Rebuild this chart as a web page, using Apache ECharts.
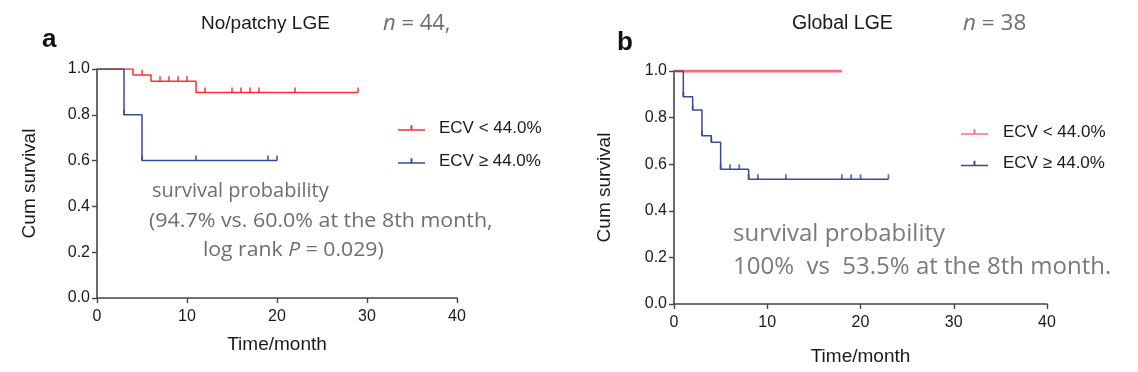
<!DOCTYPE html>
<html><head><meta charset="utf-8">
<script src="https://cdn.jsdelivr.net/npm/echarts@6/dist/echarts.min.js"></script>
<style>html,body{margin:0;padding:0;background:#fff}#c{width:1138px;height:372px}</style>
</head><body><div id="c"></div>
<script>
// ---- Panel a: No/patchy LGE ----
const aLowTimes = [0, 4, 6, 11, 29];
const aLowSurv = [1.0, 0.974, 0.947, 0.897, 0.897];
const aLowCensorT = [5, 7, 8, 9, 10, 12, 15, 16, 17, 18, 22, 29];
const aLowCensorS = [0.974, 0.947, 0.947, 0.947, 0.947, 0.897, 0.897, 0.897, 0.897, 0.897, 0.897, 0.897];
const aHighTimes = [0, 3, 5, 20];
const aHighSurv = [1.0, 0.8, 0.6, 0.6];
const aHighCensorT = [3, 5, 11, 19, 20];
const aHighCensorS = [0.8, 0.6, 0.6, 0.6, 0.6];
// ---- Panel b: Global LGE ----
const bLowTimes = [0, 18];
const bLowSurv = [1.0, 1.0];
const bHighTimes = [0, 1, 2, 3, 4, 5, 8, 23];
const bHighSurv = [1.0, 0.889, 0.833, 0.722, 0.694, 0.578, 0.535, 0.535];
const bHighCensorT = [1, 2, 3, 4, 5, 6, 7, 8, 9, 12, 18, 19, 20, 23];
const bHighCensorS = [0.889, 0.833, 0.722, 0.694, 0.578, 0.578, 0.578, 0.535, 0.535, 0.535, 0.535, 0.535, 0.535, 0.535];
// ---- labels ----
const seriesNames = ['ECV < 44.0%', 'ECV \u2265 44.0%'];
const xTicks = [0, 10, 20, 30, 40];
const yTicks = [0.0, 0.2, 0.4, 0.6, 0.8, 1.0];

const RED = '#ff2d2d', RED_B = '#ff6b7d', BLUE = '#3a4898', AX = '#444';
const FONT = '"Liberation Sans", Arial, sans-serif';
const SOFT = '"Open Sans", "Noto Sans", sans-serif';

const zip = (t, s) => t.map((v, i) => [v, s[i]]);

function mkX(gi, gap) {
  return {
    gridIndex: gi, type: 'value', min: xTicks[0], max: xTicks[xTicks.length - 1], interval: 10,
    name: 'Time/month', nameLocation: 'middle', nameGap: gap,
    nameTextStyle: { fontSize: 19, color: '#1a1a1a', fontFamily: FONT },
    axisLine: { show: true, onZero: false, lineStyle: { color: AX, width: 1.6 } },
    axisTick: { show: true, length: 5, lineStyle: { color: AX, width: 1.4 } },
    axisLabel: { fontSize: 16, color: '#1a1a1a', fontFamily: FONT, margin: 11 },
    splitLine: { show: false }
  };
}
function mkY(gi, gap) {
  return {
    gridIndex: gi, type: 'value', min: yTicks[0], max: yTicks[yTicks.length - 1], interval: 0.2,
    name: 'Cum survival', nameLocation: 'middle', nameGap: gap, nameRotate: 90,
    nameTextStyle: { fontSize: 19, color: '#1a1a1a', fontFamily: FONT },
    axisLine: { show: true, onZero: false, lineStyle: { color: AX, width: 1.6 } },
    axisTick: { show: true, length: 5, lineStyle: { color: AX, width: 1.4 } },
    axisLabel: { fontSize: 16, color: '#1a1a1a', fontFamily: FONT, margin: 7, formatter: v => v.toFixed(1) },
    splitLine: { show: false }
  };
}
function km(name, gi, t, s, color, w) {
  return { name, type: 'line', step: 'end', xAxisIndex: gi, yAxisIndex: gi, data: zip(t, s),
    symbol: 'none', lineStyle: { color, width: w }, itemStyle: { color }, silent: true, z: 3 };
}
function cens(gi, t, s, color) {
  return { name: 'censor', type: 'scatter', xAxisIndex: gi, yAxisIndex: gi, data: zip(t, s),
    symbol: 'rect', symbolSize: [1.8, 5], symbolOffset: [0, -2.5], itemStyle: { color }, silent: true, z: 4 };
}
const icon = 'path://M0,6L28,6L28,7.6L0,7.6Z M13,2L15,2L15,7L13,7Z';
function legend(left, top, redColor, gap, pad) {
  return {
    left, top, orient: 'vertical', itemGap: gap, itemWidth: 27, itemHeight: 7, icon, padding: 0,
    selectedMode: false,
    textStyle: { fontSize: 17, lineHeight: 18, color: '#1a1a1a', fontFamily: FONT, padding: [0, 0, 0, pad] },
    data: [
      { name: seriesNames[0], itemStyle: { color: redColor } },
      { name: seriesNames[1], itemStyle: { color: BLUE } }
    ]
  };
}
function txt(x, y, text, size, color, family, extra, styleExtra) {
  return Object.assign({ type: 'text', x, y, style: Object.assign({ text, fontSize: size, fill: color, fontFamily: family,
    textVerticalAlign: 'middle' }, styleExtra || {}) }, extra || {});
}
const italic = (size, color) => ({ i: { fontStyle: 'italic', fontSize: size, fill: color, fontFamily: SOFT } });

const chart = echarts.init(document.getElementById('c'), null, { renderer: 'canvas' });
chart.setOption({
  animation: false,
  grid: [
    { left: 97, top: 69, width: 360, height: 229 },
    { left: 674, top: 71, width: 373, height: 233 }
  ],
  xAxis: [mkX(0, 37), mkX(1, 43)],
  yAxis: [mkY(0, 58), mkY(1, 60)],
  legend: [legend(398, 119, RED, 15, 9), legend(961, 123, RED_B, 13.5, 10)],
  series: [
    km(seriesNames[0], 0, aLowTimes, aLowSurv, RED, 1.5),
    km(seriesNames[1], 0, aHighTimes, aHighSurv, BLUE, 1.5),
    cens(0, aLowCensorT, aLowCensorS, RED),
    cens(0, aHighCensorT, aHighCensorS, BLUE),
    km(seriesNames[0], 1, bLowTimes, bLowSurv, RED_B, 3),
    km(seriesNames[1], 1, bHighTimes, bHighSurv, BLUE, 1.5),
    cens(1, bHighCensorT, bHighCensorS, BLUE)
  ],
  graphic: [
    txt(42, 40, 'a', 26, '#111', FONT, null, { fontWeight: 'bold' }),
    txt(617, 43, 'b', 26, '#111', FONT, null, { fontWeight: 'bold' }),
    txt(201, 24, 'No/patchy LGE', 19, '#1a1a1a', FONT),
    txt(792, 24, 'Global LGE', 19.5, '#1a1a1a', FONT),
    txt(383, 24, '{i|n} = 44,', 22, '#707070', SOFT, null, { rich: italic(22, '#707070') }),
    txt(963, 24, '{i|n} = 38', 22.5, '#707070', SOFT, null, { rich: italic(22.5, '#707070') }),
    txt(152, 191, 'survival probability', 20, '#6e6e6e', SOFT),
    txt(149, 221, '(94.7% vs. 60.0% at the 8th month,', 20, '#6e6e6e', SOFT, { scaleX: 1.07 }),
    txt(203, 250, 'log rank {i|P} = 0.029)', 20, '#6e6e6e', SOFT, { scaleX: 1.06 }, { rich: italic(20, '#6e6e6e') }),
    txt(733, 234, 'survival probability', 24, '#7a7a7a', SOFT),
    txt(733, 267, '100%  vs  53.5% at the 8th month.', 24, '#7a7a7a', SOFT)
  ]
});
</script></body></html>
